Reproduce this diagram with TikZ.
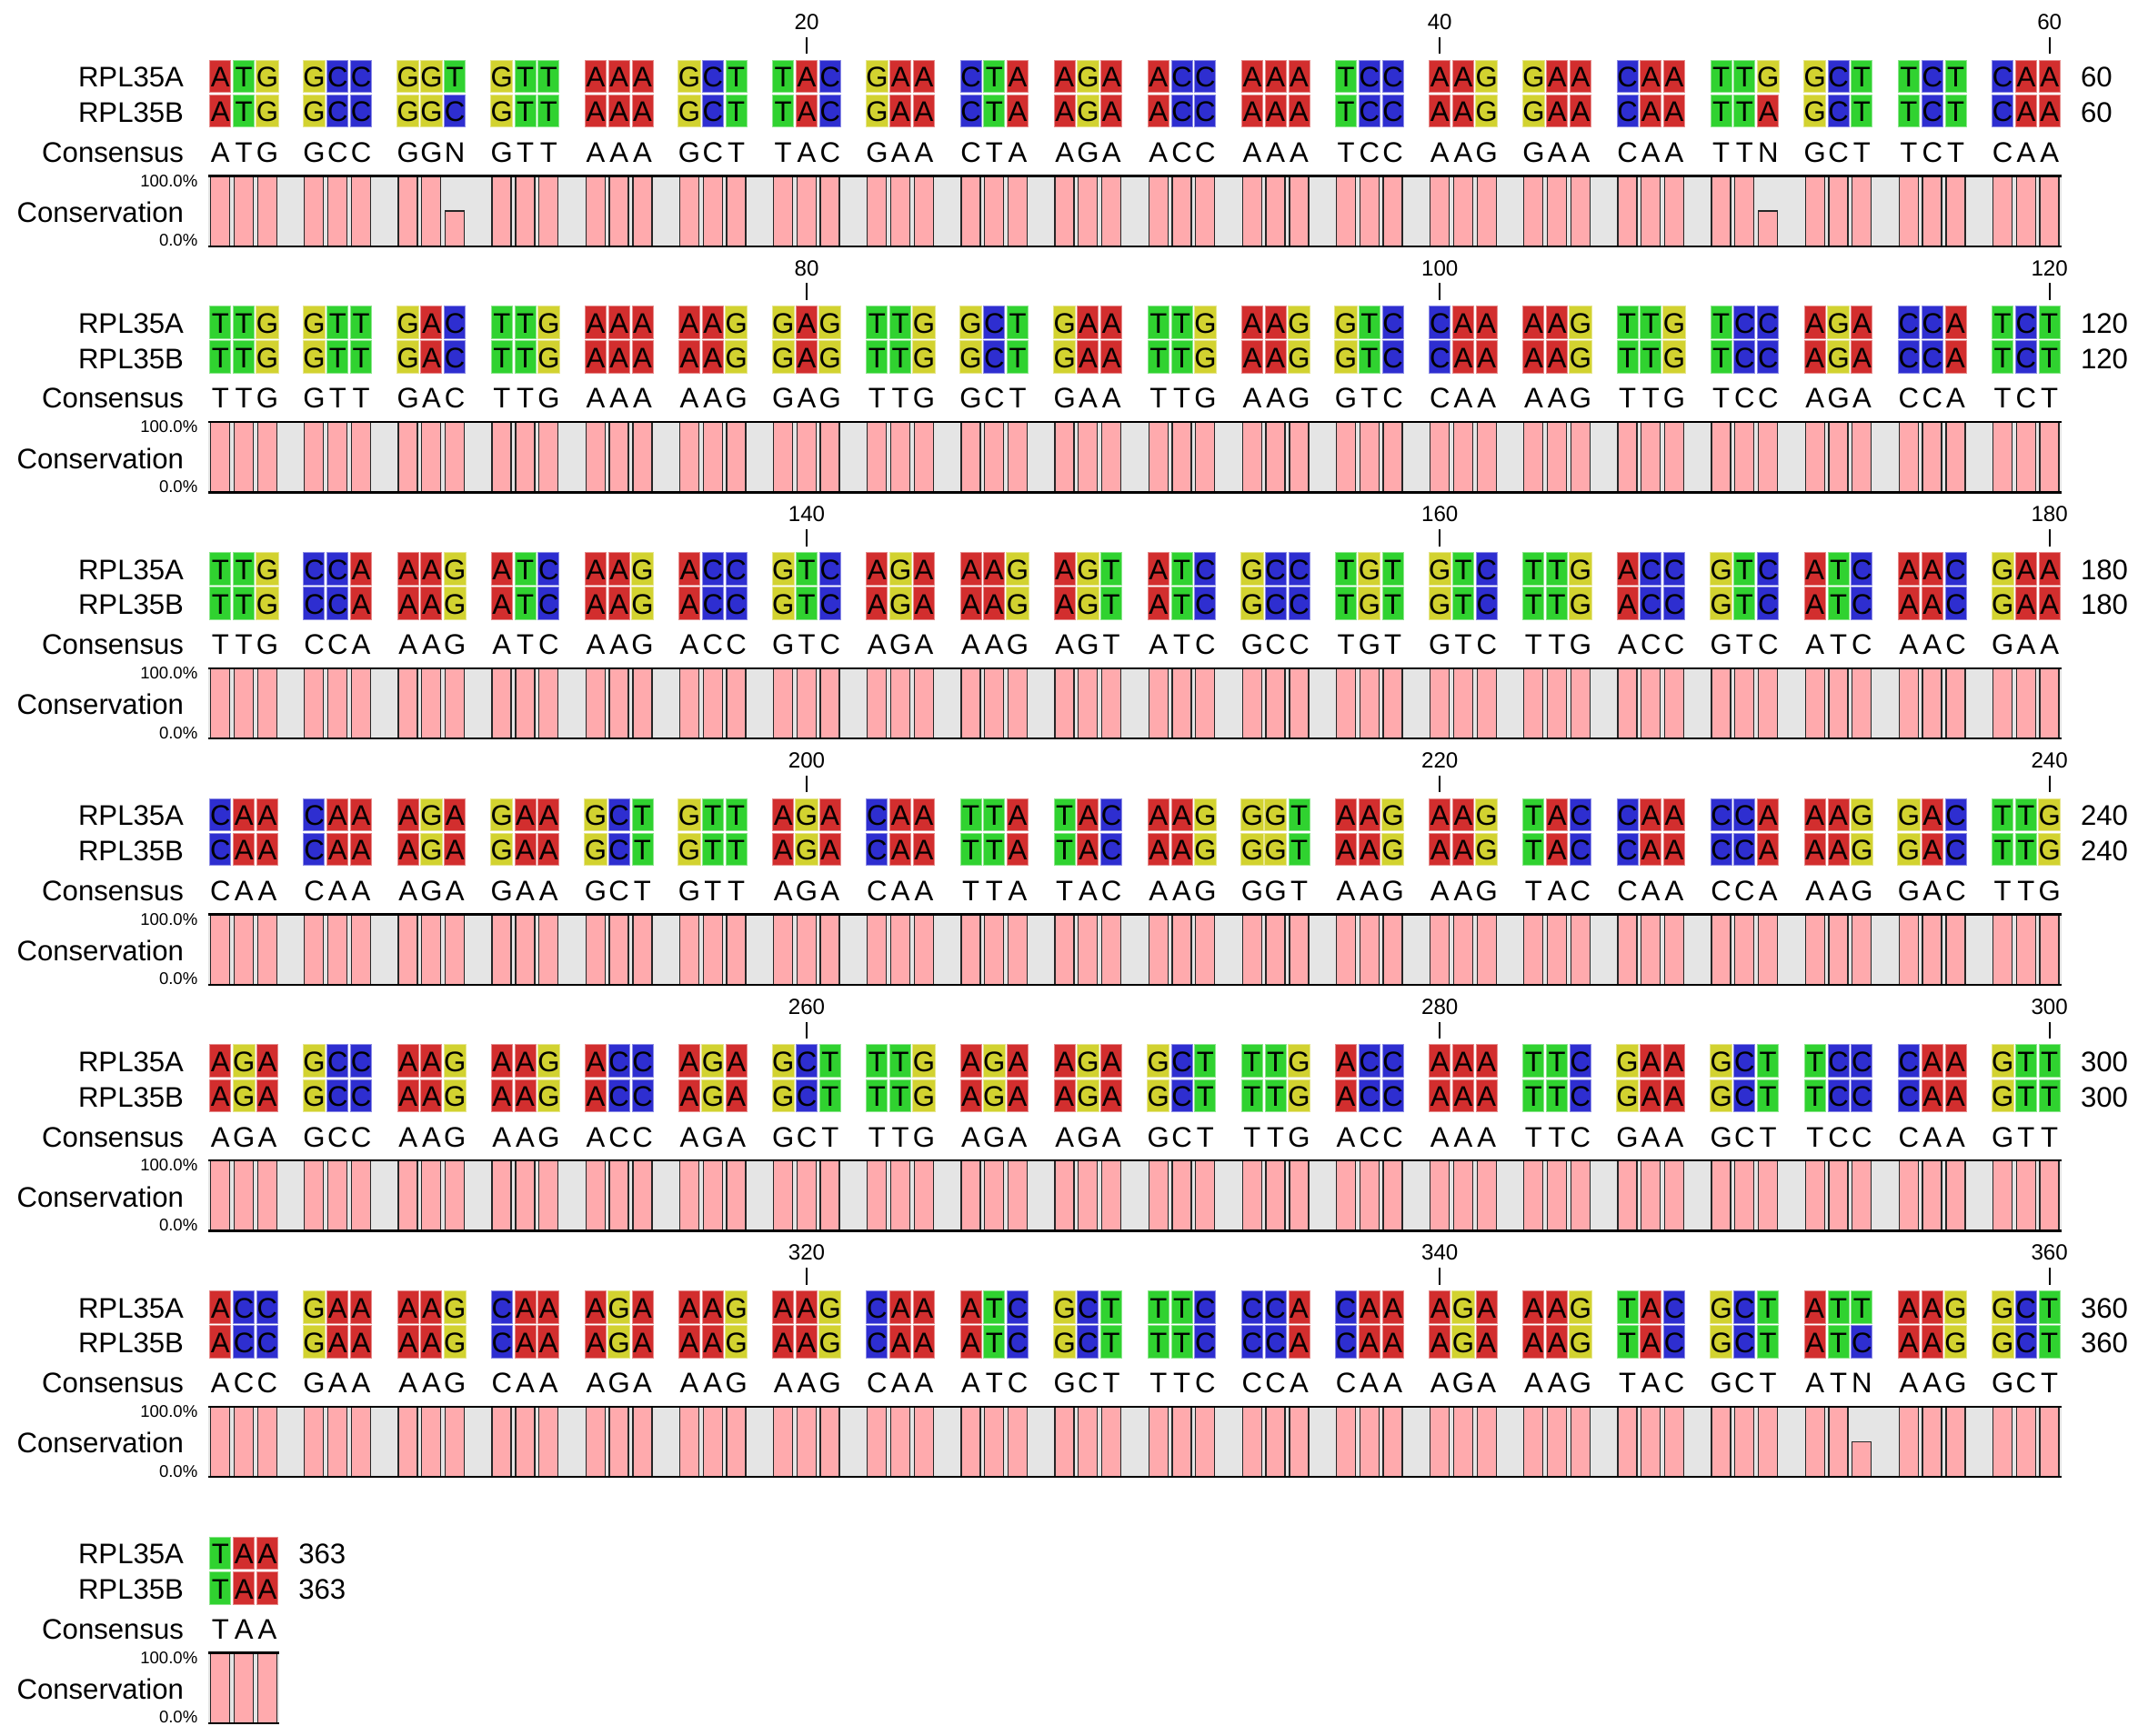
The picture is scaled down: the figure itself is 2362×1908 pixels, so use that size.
\documentclass[tikz,border=0pt]{standalone}
\usepackage{fontspec}
\setmainfont{Liberation Sans}
\usetikzlibrary{positioning}
\definecolor{nucA}{RGB}{210,46,46}
\definecolor{nucC}{RGB}{46,46,208}
\definecolor{nucG}{RGB}{210,210,48}
\definecolor{nucT}{RGB}{48,210,48}
\definecolor{barcol}{RGB}{255,170,173}
\definecolor{gapcol}{RGB}{229,229,229}
\tikzset{
  % coloured nucleotide cell
  nucbox/.style={rectangle, fill=nuc#1, draw=nuc#1!55!white, line width=0.1mm,
                 minimum width=2.30mm, minimum height=3.56mm, inner sep=0pt,
                 text height=2.37mm, text depth=0pt, font=\fontsize{8.86pt}{10pt}\selectfont},
  % consensus letter
  constext/.style={inner sep=0pt, anchor=base, font=\fontsize{8.86pt}{10pt}\selectfont},
  % row names and end numbers
  seqname/.style={inner sep=0pt, font=\fontsize{8.86pt}{10pt}\selectfont},
  % small percent labels
  pctlabel/.style={inner sep=0pt, anchor=base east, font=\fontsize{5.28pt}{6pt}\selectfont},
  % ruler numbers
  rulernum/.style={inner sep=0pt, anchor=base, font=\fontsize{6.87pt}{8pt}\selectfont},
  rulertick/.style={line width=0.2mm, black},
  % conservation bars
  conbar/.style={fill=barcol, draw=black!85, line width=0.13mm},
  panelline/.style={line width=0.24mm, black},
}
\def\getcodon#1#2#3{\edef\nucx{#1}\edef\nucy{#2}\edef\nucz{#3}}
% #1 block, #2 end number, #3 last column, #4 RPL35A codons, #5 RPL35B codons (empty = same)
\newcommand\alignblock[5]{%
  \pgfmathsetmacro\by{270.7*#1}
  \pgfmathsetmacro\lastx{230.7+25.786*#3}
  \def\listA{#4}\def\listB{#5}
  \ifx\listB\empty\def\listB{#4}\fi
  % names
  \node[seqname, anchor=base east] (na#1) at (202.7,\by+95.7) {RPL35A};
  \node[seqname, anchor=base east] (nb#1) at (202.7,\by+134.3) {RPL35B};
  \node[seqname, anchor=base east] (nc#1) at (202.7,\by+178.2) {Consensus};
  \node[seqname, anchor=base east] (nk#1) at (202.7,\by+244.3) {Conservation};
  \node[pctlabel] (top#1) at (218,\by+205) {100.0\%};
  \node[pctlabel] (bot#1) at (218,\by+270.7) {0.0\%};
  % conservation panel
  \fill[gapcol] (229,\by+193.3) rectangle (\lastx+24.8,\by+270.7);
  % RPL35A
  \foreach \cod [count=\kk from 0] in \listA {
    \expandafter\getcodon\cod
    \foreach \nuc [count=\jj from 0] in {\nucx,\nucy,\nucz} {
      \pgfmathtruncatemacro\col{4*\kk+\jj}
      \pgfmathsetmacro\cx{230.7+25.786*\col}
      \node[nucbox=\nuc] (a#1-\col) at (\cx+11.65,\by+83.85) {\nuc};
      \expandafter\xdef\csname keepA\col\endcsname{\nuc}
    }
  }
  % RPL35B, consensus, conservation
  \foreach \cod [count=\kk from 0] in \listB {
    \expandafter\getcodon\cod
    \foreach \nuc [count=\jj from 0] in {\nucx,\nucy,\nucz} {
      \pgfmathtruncatemacro\col{4*\kk+\jj}
      \pgfmathsetmacro\cx{230.7+25.786*\col}
      \node[nucbox=\nuc] (b#1-\col) at (\cx+11.65,\by+122) {\nuc};
      \edef\la{\csname keepA\col\endcsname}\edef\lb{\nuc}
      \ifx\la\lb\def\cons{\nuc}\def\bartop{193.3}\else\def\cons{N}\def\bartop{232}\fi
      \node[constext] (c#1-\col) at (\cx+11.65,\by+178.2) {\cons};
      \draw[conbar] (\cx+1,\by+\bartop) rectangle (\cx+22,\by+270.7);
    }
  }
  \draw[panelline] (229,\by+193.3) -- (\lastx+24.8,\by+193.3);
  \draw[panelline] (229,\by+270.7) -- (\lastx+24.8,\by+270.7);
  % end numbers
  \node[seqname, anchor=base west] (ea#1) at (\lastx+45.3,\by+95.7) {#2};
  \node[seqname, anchor=base west] (eb#1) at (\lastx+45.3,\by+134.3) {#2};
}

\begin{document}
\begin{tikzpicture}[x=0.1mm, y=-0.1mm]
  \useasboundingbox (0,0) rectangle (2362,1908);

  % Rows 1-60
  \alignblock{0}{60}{78}%
    {ATG,GCC,GGT,GTT,AAA,GCT,TAC,GAA,CTA,AGA,ACC,AAA,TCC,AAG,GAA,CAA,TTG,GCT,TCT,CAA}%
    {ATG,GCC,GGC,GTT,AAA,GCT,TAC,GAA,CTA,AGA,ACC,AAA,TCC,AAG,GAA,CAA,TTA,GCT,TCT,CAA}
  % Rows 61-120
  \alignblock{1}{120}{78}%
    {TTG,GTT,GAC,TTG,AAA,AAG,GAG,TTG,GCT,GAA,TTG,AAG,GTC,CAA,AAG,TTG,TCC,AGA,CCA,TCT}{}
  % Rows 121-180
  \alignblock{2}{180}{78}%
    {TTG,CCA,AAG,ATC,AAG,ACC,GTC,AGA,AAG,AGT,ATC,GCC,TGT,GTC,TTG,ACC,GTC,ATC,AAC,GAA}{}
  % Rows 181-240
  \alignblock{3}{240}{78}%
    {CAA,CAA,AGA,GAA,GCT,GTT,AGA,CAA,TTA,TAC,AAG,GGT,AAG,AAG,TAC,CAA,CCA,AAG,GAC,TTG}{}
  % Rows 241-300
  \alignblock{4}{300}{78}%
    {AGA,GCC,AAG,AAG,ACC,AGA,GCT,TTG,AGA,AGA,GCT,TTG,ACC,AAA,TTC,GAA,GCT,TCC,CAA,GTT}{}
  % Rows 301-360
  \alignblock{5}{360}{78}%
    {ACC,GAA,AAG,CAA,AGA,AAG,AAG,CAA,ATC,GCT,TTC,CCA,CAA,AGA,AAG,TAC,GCT,ATT,AAG,GCT}%
    {ACC,GAA,AAG,CAA,AGA,AAG,AAG,CAA,ATC,GCT,TTC,CCA,CAA,AGA,AAG,TAC,GCT,ATC,AAG,GCT}
  % Rows 361-363
  \alignblock{6}{363}{2}{TAA}{}

  % ruler
  \foreach \blk in {0,...,5} {
    \foreach \cc/\q in {25/20,52/40,78/60} {
      \pgfmathtruncatemacro\num{60*\blk+\q}
      \node[rulernum] (r\blk-\q) at (230.7+25.786*\cc+11.65,270.7*\blk+32.3) {\num};
      \draw[rulertick] ([yshift=-0.84mm]r\blk-\q.base) -- ++(0,18.6);
    }
  }
\end{tikzpicture}
\end{document}
